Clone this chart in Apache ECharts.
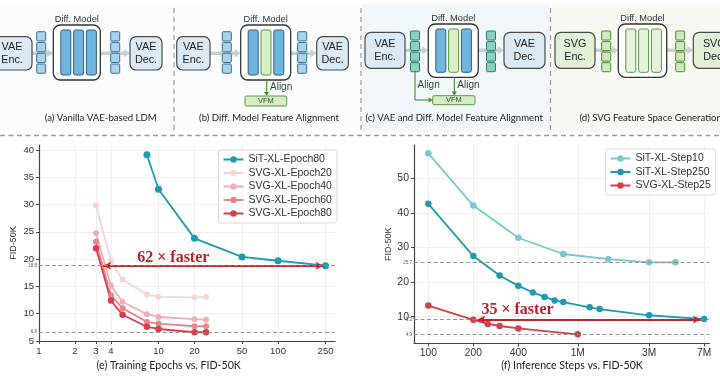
<!DOCTYPE html>
<html><head><meta charset="utf-8">
<script src="https://cdn.jsdelivr.net/npm/echarts@6/dist/echarts.min.js"></script>
<style>html,body{margin:0;padding:0;background:#fff}#c{width:720px;height:380px}</style>
</head><body><div id="c"></div>
<script>
// ---------- data: panel (e) Training Epochs vs FID-50K ----------
const epochTicks = [1, 2, 3, 4, 10, 20, 50, 100, 250];
const fidTicksE = [5, 10, 15, 20, 25, 30, 35, 40];
const sitEpochs = [8, 10, 20, 50, 100, 250];
const sitEpoch80 = [39.1, 32.8, 23.8, 20.4, 19.7, 18.8];
const svgEpochs = [3, 4, 5, 8, 10, 20, 25];
const svgEpoch20 = [29.8, 19.7, 16.2, 13.5, 13.1, 13.0, 13.1];
const svgEpoch40 = [24.8, 15.1, 12.2, 9.9, 9.4, 9.0, 8.9];
const svgEpoch60 = [23.2, 13.4, 11.0, 8.5, 8.2, 7.7, 7.7];
const svgEpoch80 = [22.0, 12.4, 9.8, 7.6, 7.2, 6.6, 6.6];
const refLinesE = [18.8, 6.6];
const arrowE = [3.45, 240];      // x range of the "62x faster" arrow (at FID 18.8)
const arrowTextE = [13.3, '62 × faster'];

// ---------- data: panel (f) Inference Steps vs FID-50K ----------
const stepTicks = [100, 200, 400, 1000, 3000, 7000];
const stepTickLabels = ['100', '200', '400', '1M', '3M', '7M'];
const fidTicksF = [10, 20, 30, 40, 50];
const stepsStep10 = [100, 200, 400, 800, 1600, 3000, 4500];
const sitStep10 = [57.2, 42.1, 32.8, 28.1, 26.6, 25.7, 25.7];
const stepsStep250 = [100, 200, 300, 400, 500, 600, 700, 800, 1200, 1400, 3000, 7000];
const sitStep250 = [42.6, 27.5, 21.9, 18.9, 17.0, 15.7, 14.7, 14.2, 12.7, 12.2, 10.4, 9.3];
const stepsSvg25 = [100, 200, 250, 300, 400, 1000];
const svgStep25 = [13.2, 9.1, 7.9, 7.3, 6.6, 4.9];
const refLinesF = [25.7, 9.2, 4.9];
const arrowF = [213, 6650];      // x range of the "35x faster" arrow (at FID 9.2)
const arrowTextF = [395, '35 × faster'];

const L = Math.log10;
const pairs = (xs, ys) => xs.map((x, i) => [L(x), ys[i]]);

const SANS = 'Liberation Sans, Arial, sans-serif';
const TEAL = '#1d9bb2', TEAL_L = '#78c8d0', RED = '#d6404a', DARKRED = '#b8232b';

// ---------- top schematic (graphic) ----------
const G = [];
const add = o => { o.silent = true; G.push(o); };
const box = (x, y, w, h, fill, stroke, lw, r) => add({type: 'rect', shape: {x, y, width: w, height: h, r: r || 0}, style: {fill, stroke, lineWidth: lw || 1}});
const txt = (x, y, t, size, color, extra) => add({type: 'text', x, y, style: Object.assign({text: t, fontSize: size, fill: color, align: 'center', verticalAlign: 'middle', fontFamily: SANS, lineHeight: size * 1.25}, extra || {})});
const seg = (x1, y1, x2, y2, stroke, lw, dash) => add({type: 'line', shape: {x1, y1, x2, y2}, style: {stroke, lineWidth: lw, lineDash: dash || null}});
const poly = (points, fill) => add({type: 'polygon', shape: {points}, style: {fill}});

// panel backgrounds
box(0, 4, 361, 128, '#fafcfd', null, 0);
box(362, 4, 188, 128, '#f2f7fb', null, 0);
box(551, 4, 169, 128, '#f6faf2', null, 0);

const BLUE_BOX = '#dceaf5', GREEN_BOX = '#e1f0d6';
const COL_BLUE = ['#70b5de', '#2f5f80'], COL_GREEN = ['#daeecb', '#5a983e'], COL_LGREEN = ['#e6f3dc', '#5a983e'];
const TOK_BLUE = ['#a9d3eb', '#3b6e8f'], TOK_TEAL = ['#8dd0c2', '#2e7a6b'], TOK_GREEN = ['#cfe8bf', '#4f8b36'];

function grayArrow(x1, x2, y) {
  seg(x1, y, x2 - 5, y, '#c6ced6', 3.5);
  poly([[x2 - 6, y - 4], [x2, y], [x2 - 6, y + 4]], '#c6ced6');
}
function tokens(x, y0, h, c) {
  const s = (h - 3 * 1.5) / 4;
  for (let i = 0; i < 4; i++) box(x, y0 + i * (s + 1.5), 9, s, c[0], c[1], 1, 1);
}
function diffModel(x, y, w, h, cols) {
  box(x, y, w, h, '#ffffff', '#333333', 1.3, 7);
  txt(x + w / 2, y - 6, 'Diff. Model', 9.3, '#333');
  cols.forEach((c, i) => box(x + 7.5 + i * 12.8, y + 5, 10, h - 10, c[0], c[1], 1, 2));
}
function panel(p) {
  const cy = p.y + p.h / 2;
  grayArrow(p.enc[0] + p.enc[1], p.diff, cy);
  grayArrow(p.diff + p.dw, p.dec[0], cy);
  box(p.enc[0], p.y, p.enc[1], p.h, p.boxFill, '#4a4a4a', 1.2, 6);
  txt(p.enc[0] + p.enc[1] / 2, cy, p.encText, 10.8, '#222');
  tokens(p.tok[0], p.ty, p.th, p.tokC);
  diffModel(p.diff, p.dy, p.dw, p.dh, p.cols);
  tokens(p.tok[1], p.ty, p.th, p.tokC);
  box(p.dec[0], p.y, p.dec[1], p.h, p.boxFill, '#4a4a4a', 1.2, 6);
  txt(p.dec[0] + p.dec[1] / 2, cy, p.decText, 10.8, '#222');
  txt(p.cap[0], 118, p.cap[1], 9.6, '#222', {fontFamily: 'Lato, sans-serif'});
}
panel({enc: [-8, 40], dec: [130, 32], y: 36.7, h: 33.3, tok: [36.7, 110.7], ty: 31.7, th: 41.6,
  diff: 53.3, dw: 47, dy: 25, dh: 55, cols: [COL_BLUE, COL_BLUE, COL_BLUE], tokC: TOK_BLUE,
  boxFill: BLUE_BOX, encText: 'VAE\nEnc.', decText: 'VAE\nDec.', cap: [100.8, '(a) Vanilla VAE-based LDM']});
panel({enc: [176.7, 33.3], dec: [316.7, 31.7], y: 36.7, h: 33.3, tok: [222.3, 297.7], ty: 31.7, th: 41.6,
  diff: 240.7, dw: 50, dy: 25, dh: 55, cols: [COL_BLUE, COL_GREEN, COL_BLUE], tokC: TOK_BLUE,
  boxFill: BLUE_BOX, encText: 'VAE\nEnc.', decText: 'VAE\nDec.', cap: [269, '(b) Diff. Model Feature Alignment']});
panel({enc: [365, 40], dec: [504, 41], y: 32.3, h: 36, tok: [410.5, 486.5], ty: 31, th: 40.7,
  diff: 428.3, dw: 50, dy: 24, dh: 53.3, cols: [COL_BLUE, COL_GREEN, COL_BLUE], tokC: TOK_TEAL,
  boxFill: BLUE_BOX, encText: 'VAE\nEnc.', decText: 'VAE\nDec.', cap: [454.2, '(c) VAE and Diff. Model Feature Alignment']});
panel({enc: [555, 40], dec: [693.3, 42], y: 32.3, h: 36, tok: [601.7, 675.7], ty: 31, th: 40.7,
  diff: 618.3, dw: 48.4, dy: 24, dh: 53.3, cols: [COL_LGREEN, COL_LGREEN, COL_LGREEN], tokC: TOK_GREEN,
  boxFill: GREEN_BOX, encText: 'SVG\nEnc.', decText: 'SVG\nDec.', cap: [650.7, '(d) SVG Feature Space Generation']});

// VFM alignment (b)
const GREEN_LINE = '#4a8a2c';
seg(266.7, 80, 266.7, 93, GREEN_LINE, 1.1);
poly([[264.2, 92], [269.2, 92], [266.7, 96]], GREEN_LINE);
txt(270, 87, 'Align', 10, '#2f4f25', {align: 'left'});
box(245, 96, 41.7, 10, '#d8ebc9', '#5a983e', 1, 1.5);
txt(265.8, 101.2, 'VFM', 7.5, '#2f4f25');
// VFM alignment (c)
seg(415, 71.7, 415, 100, GREEN_LINE, 1.1);
seg(415, 100, 429.5, 100, GREEN_LINE, 1.1);
poly([[428.7, 97.5], [428.7, 102.5], [432.7, 100]], GREEN_LINE);
txt(417.5, 85, 'Align', 10, '#2f4f25', {align: 'left'});
seg(454.3, 77.3, 454.3, 92, GREEN_LINE, 1.1);
poly([[451.8, 91.5], [456.8, 91.5], [454.3, 95.7]], GREEN_LINE);
txt(457.3, 85, 'Align', 10, '#2f4f25', {align: 'left'});
box(432.7, 95.7, 42.3, 9, '#d8ebc9', '#5a983e', 1, 1.5);
txt(453.8, 100.4, 'VFM', 7.5, '#2f4f25');

// separators
[174, 361, 550.5].forEach(x => seg(x, 8, x, 131, '#9a9a9a', 1.2, [5, 4]));
seg(0, 135.5, 720, 135.5, '#9a9a9a', 1.3, [5, 3.5]);

// captions of the charts
txt(168.7, 365.5, '(e) Training Epochs vs. FID-50K', 10.6, '#222', {fontFamily: 'Lato, sans-serif'});
txt(572, 365.5, '(f) Inference Steps vs. FID-50K', 10.6, '#222', {fontFamily: 'Lato, sans-serif'});

// ---------- chart options ----------
const axisLineStyle = {show: true, onZero: false, lineStyle: {color: '#444', width: 1.2}};
const gridLine = {show: true, lineStyle: {color: '#ebebeb', width: 0.8}};
const refLine = (vals) => ({
  silent: true, symbol: 'none',
  lineStyle: {type: [4, 2.5], color: '#8a8a8a', width: 0.9},
  label: {show: true, position: 'start', formatter: p => String(p.value), fontSize: 4.5, color: '#555', distance: 2},
  data: vals.map(v => ({yAxis: v}))
});
const arrowLine = (xr, y) => ({
  silent: true, symbol: ['arrow', 'arrow'], symbolSize: [6, 8],
  lineStyle: {type: 'solid', color: '#c4262e', width: 1.8},
  label: {show: false},
  data: [[{coord: [L(xr[0]), y]}, {coord: [L(xr[1]), y]}]]
});
const arrowText = (t, y, dy) => ({
  silent: true, symbol: 'rect', symbolSize: 1, itemStyle: {color: 'rgba(0,0,0,0)'},
  label: {show: true, formatter: t[1], fontFamily: 'Liberation Serif, serif', fontWeight: 'bold', fontSize: 16, color: DARKRED, offset: [0, dy]},
  data: [{coord: [L(t[0]), y]}]
});

function lineSeries(name, xi, xs, ys, color, size, extra) {
  return Object.assign({
    name, type: 'line', xAxisIndex: xi, yAxisIndex: xi, data: pairs(xs, ys),
    symbol: 'circle', symbolSize: size, showSymbol: true,
    lineStyle: {color, width: 1.8}, itemStyle: {color},
    emphasis: {disabled: true}, animation: false
  }, extra || {});
}

const option = {
  animation: false,
  backgroundColor: '#ffffff',
  graphic: {elements: G},
  grid: [
    {left: 39, top: 145, width: 296, height: 196},
    {left: 414, top: 145, width: 295.3, height: 198.3}
  ],
  xAxis: [
    {gridIndex: 0, type: 'value', min: 0, max: L(300),
      axisLine: axisLineStyle,
      axisTick: {show: true, length: 3, customValues: epochTicks.map(L), lineStyle: {color: '#444'}},
      axisLabel: {customValues: epochTicks.map(L), formatter: v => String(Math.round(Math.pow(10, v))), fontSize: 9.5, color: '#333', margin: 5, fontFamily: SANS},
      splitLine: gridLine},
    {gridIndex: 1, type: 'value', min: L(80.2), max: L(7585),
      axisLine: axisLineStyle,
      axisTick: {show: true, length: 3, customValues: stepTicks.map(L), lineStyle: {color: '#444'}},
      axisLabel: {customValues: stepTicks.map(L), formatter: v => stepTickLabels[stepTicks.findIndex(t => Math.abs(L(t) - v) < 1e-6)] || '', fontSize: 10.2, color: '#333', margin: 5, fontFamily: SANS},
      splitLine: gridLine}
  ],
  yAxis: [
    {gridIndex: 0, type: 'value', min: 5, max: 40.9, name: 'FID-50K', nameLocation: 'middle', nameGap: 21,
      nameTextStyle: {fontSize: 9, color: '#333', fontFamily: SANS},
      axisLine: axisLineStyle,
      axisTick: {show: true, length: 3, customValues: fidTicksE, lineStyle: {color: '#444'}},
      axisLabel: {customValues: fidTicksE, fontSize: 9.5, color: '#333', margin: 5, fontFamily: SANS},
      splitLine: gridLine},
    {gridIndex: 1, type: 'value', min: 2.3, max: 59.6, name: 'FID-50K', nameLocation: 'middle', nameGap: 20,
      nameTextStyle: {fontSize: 9, color: '#333', fontFamily: SANS},
      axisLine: axisLineStyle,
      axisTick: {show: true, length: 3, customValues: fidTicksF, lineStyle: {color: '#444'}},
      axisLabel: {customValues: fidTicksF, fontSize: 10.5, color: '#333', margin: 5, fontFamily: SANS},
      splitLine: gridLine}
  ],
  legend: [
    {data: ['SiT-XL-Epoch80', 'SVG-XL-Epoch20', 'SVG-XL-Epoch40', 'SVG-XL-Epoch60', 'SVG-XL-Epoch80'],
      orient: 'vertical', left: 218.5, top: 150, padding: [4, 5, 4, 4], itemWidth: 20, itemHeight: 8, itemGap: 2.5,
      textStyle: {fontSize: 10.5, color: '#333', fontFamily: SANS, lineHeight: 11},
      backgroundColor: 'rgba(255,255,255,0.92)', borderColor: '#cfcfcf', borderWidth: 0.8, borderRadius: 3},
    {data: ['SiT-XL-Step10', 'SiT-XL-Step250', 'SVG-XL-Step25'],
      orient: 'vertical', left: 605.5, top: 149, padding: [4, 5, 4, 4], itemWidth: 20, itemHeight: 8, itemGap: 2.5,
      textStyle: {fontSize: 10.5, color: '#333', fontFamily: SANS, lineHeight: 11},
      backgroundColor: 'rgba(255,255,255,0.92)', borderColor: '#cfcfcf', borderWidth: 0.8, borderRadius: 3}
  ],
  series: [
    lineSeries('SVG-XL-Epoch20', 0, svgEpochs, svgEpoch20, '#f4d4d7', 6),
    lineSeries('SVG-XL-Epoch40', 0, svgEpochs, svgEpoch40, '#eeb0b5', 6),
    lineSeries('SVG-XL-Epoch60', 0, svgEpochs, svgEpoch60, '#e5868d', 6),
    lineSeries('SVG-XL-Epoch80', 0, svgEpochs, svgEpoch80, RED, 6.5,
      {markLine: arrowLine(arrowE, refLinesE[0]), markPoint: arrowText(arrowTextE, refLinesE[0], -8)}),
    lineSeries('SiT-XL-Epoch80', 0, sitEpochs, sitEpoch80, TEAL, 7, {markLine: refLine(refLinesE)}),
    lineSeries('SiT-XL-Step10', 1, stepsStep10, sitStep10, TEAL_L, 6.5, {markLine: refLine(refLinesF)}),
    lineSeries('SiT-XL-Step250', 1, stepsStep250, sitStep250, TEAL, 6.5),
    lineSeries('SVG-XL-Step25', 1, stepsSvg25, svgStep25, RED, 6.5,
      {markLine: arrowLine(arrowF, refLinesF[1]), markPoint: arrowText(arrowTextF, refLinesF[1], -9.5)})
  ]
};

const chart = echarts.init(document.getElementById('c'), null, {renderer: 'canvas', width: 720, height: 380});
chart.setOption(option);
</script>
</body></html>
